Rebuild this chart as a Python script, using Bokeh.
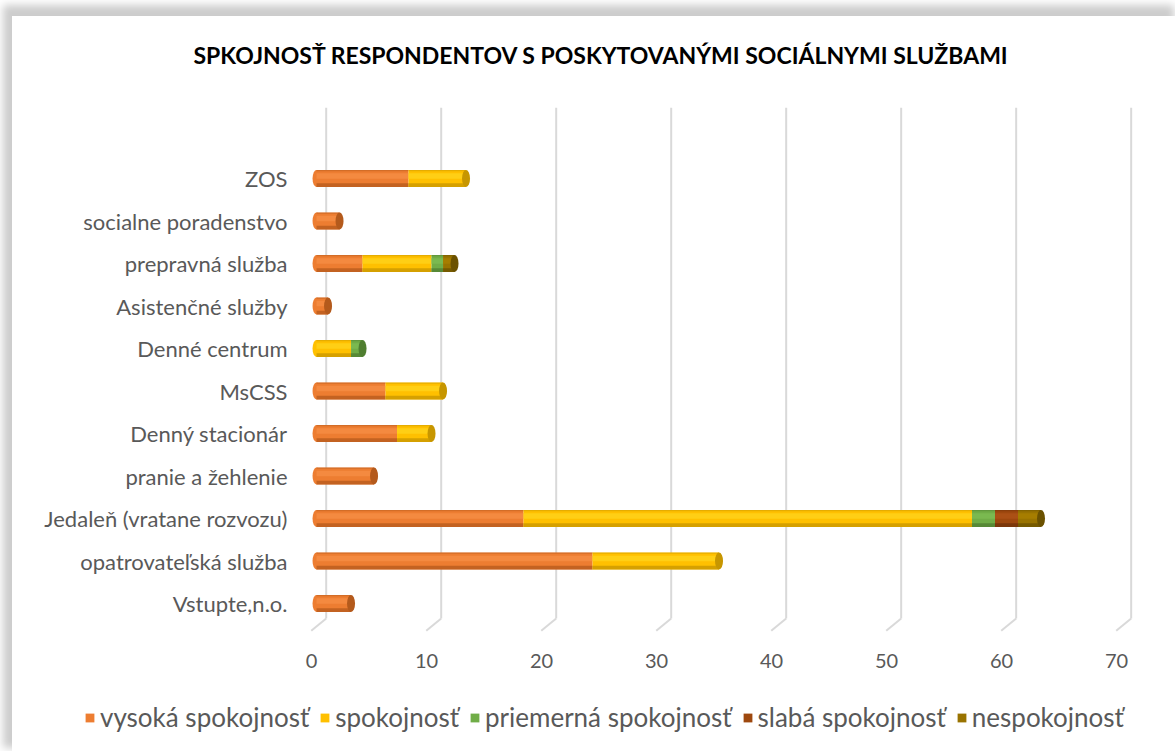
import numpy as np
from bokeh.plotting import figure
from bokeh.layouts import column
from bokeh.models import (ColumnDataSource, Range1d, LinearAxis, FixedTicker,
                          Legend, LegendItem, Title)
from bokeh.embed import file_html
from bokeh.resources import INLINE

# ---------------- data (bottom -> top) ----------------
categories = ["Vstupte,n.o.", "opatrovateľská služba", "Jedaleň (vratane rozvozu)",
              "pranie a žehlenie", "Denný stacionár", "MsCSS", "Denné centrum",
              "Asistenčné služby", "prepravná služba", "socialne poradenstvo", "ZOS"]
series_names = ["vysoká spokojnosť", "spokojnosť", "priemerná spokojnosť",
                "slabá spokojnosť", "nespokojnosť"]
vysoka = [3, 24, 18, 5, 7, 6, 0, 1, 4, 2, 8]
spokojnost = [0, 11, 39, 0, 3, 5, 3, 0, 6, 0, 5]
priemerna = [0, 0, 2, 0, 0, 0, 1, 0, 1, 0, 0]
slaba = [0, 0, 2, 0, 0, 0, 0, 0, 0, 0, 0]
nespokojnost = [0, 0, 2, 0, 0, 0, 0, 0, 1, 0, 0]
x_ticks = [0, 10, 20, 30, 40, 50, 60, 70]
title_text = "SPKOJNOSŤ RESPONDENTOV S POSKYTOVANÝMI SOCIÁLNYMI SLUŽBAMI"

base_colors = ["#ED7D31", "#FFC000", "#70AD47", "#9E480E", "#997300"]
light_colors = ["#F58D45", "#FFD21A", "#7DBB52", "#AE5318", "#A98000"]
dark_colors = ["#B45A1C", "#C79600", "#4F7E30", "#6F3209", "#6B5100"]

FONT = "Lato"
TXT = "#595959"
GRID = "#D9D9D9"

W = 1163
H_MAIN = 667
H_LEG = 68

# ---------------- main figure ----------------
X0, X1 = -0.96, 72
Y0, Y1 = -0.68, 11.67
p = figure(width=W, height=H_MAIN, x_range=Range1d(X0, X1), y_range=Range1d(Y0, Y1),
           output_backend="svg", toolbar_location=None,
           x_axis_location=None, y_axis_location=None,
           min_border_left=293, min_border_right=31, min_border_top=91,
           min_border_bottom=51)
p.frame_align = False
p.grid.visible = False
p.outline_line_color = None
p.background_fill_color = "white"
p.border_fill_color = "white"

# axis labels live on the front plane of the 3D chart
p.extra_x_ranges = {"front": Range1d(X0 + 0.43, X1 + 0.43)}

# ---------------- 3D-ish gridlines ----------------
xt = np.array(x_ticks, dtype=float)
back_off, front_off = 0.84, -0.46
bot_back, bot_front = -0.35, -0.64
p.segment(x0=xt + back_off, y0=[Y1] * len(xt), x1=xt + back_off, y1=[bot_back] * len(xt),
          line_color=GRID, line_width=2)
p.segment(x0=xt + back_off, y0=[bot_back] * len(xt), x1=xt + front_off,
          y1=[bot_front] * len(xt), line_color=GRID, line_width=2)

# ---------------- stacked cylinders ----------------
vals = np.array([vysoka, spokojnost, priemerna, slaba, nespokojnost], dtype=float)
cum = np.cumsum(vals, axis=0)
lefts = cum - vals
ys = np.arange(len(categories), dtype=float)
H = 0.40

first_idx = np.argmax(vals > 0, axis=0)
last_idx = vals.shape[0] - 1 - np.argmax(vals[::-1] > 0, axis=0)
totals = cum[-1]

lsrc = ColumnDataSource(dict(x=np.zeros(len(ys)), y=ys,
                             c=[base_colors[i] for i in first_idx]))
p.ellipse(x="x", y="y", width=8, height=H, width_units="screen", source=lsrc,
          fill_color="c", line_color=None)

for i, name in enumerate(series_names):
    m = vals[i] > 0
    src = ColumnDataSource(dict(y=ys[m], left=lefts[i][m], right=cum[i][m]))
    p.hbar(y="y", left="left", right="right", height=H, source=src,
           fill_color=base_colors[i], line_color=None)
    src_hi = ColumnDataSource(dict(y=ys[m] + 0.06, left=lefts[i][m], right=cum[i][m]))
    p.hbar(y="y", left="left", right="right", height=0.13, source=src_hi,
           fill_color=light_colors[i], fill_alpha=0.8, line_color=None)
    src_lo = ColumnDataSource(dict(y=ys[m] - 0.155, left=lefts[i][m], right=cum[i][m]))
    p.hbar(y="y", left="left", right="right", height=0.09, source=src_lo,
           fill_color=dark_colors[i], fill_alpha=0.75, line_color=None)
    src_te = ColumnDataSource(dict(y=ys[m] + 0.185, left=lefts[i][m], right=cum[i][m]))
    p.hbar(y="y", left="left", right="right", height=0.03, source=src_te,
           fill_color=dark_colors[i], fill_alpha=0.45, line_color=None)

rsrc = ColumnDataSource(dict(x=totals, y=ys, c=[dark_colors[i] for i in last_idx]))
p.ellipse(x="x", y="y", width=8, height=H, width_units="screen", source=rsrc,
          fill_color="c", line_color=None)

# ---------------- axes ----------------
yaxis = LinearAxis(ticker=FixedTicker(ticks=list(range(len(categories)))),
                   major_label_overrides={i: c for i, c in enumerate(categories)})
yaxis.axis_line_color = None
yaxis.major_tick_line_color = None
yaxis.minor_tick_line_color = None
yaxis.major_label_standoff = 12
yaxis.major_label_text_font = FONT
yaxis.major_label_text_font_size = "22px"
yaxis.major_label_text_color = TXT
p.add_layout(yaxis, "left")

xaxis = LinearAxis(x_range_name="front", ticker=FixedTicker(ticks=x_ticks))
xaxis.axis_line_color = None
xaxis.major_tick_line_color = None
xaxis.minor_tick_line_color = None
xaxis.major_label_standoff = 15
xaxis.major_label_text_font = FONT
xaxis.major_label_text_font_size = "20px"
xaxis.major_label_text_color = TXT
p.add_layout(xaxis, "below")

# ---------------- title ----------------
# real title in the figure's own (outer) title slot
p.title.text = title_text
p.title.text_font = FONT
p.title.text_font_style = "bold"
p.title.text_font_size = "23px"
p.title.text_color = "#000000"
p.title.align = "left"
p.title.offset = -112
p.title.standoff = 0
# spacer between the title and the plot area
spacer = Title(text=" ", text_font_size="10px", standoff=26)
p.add_layout(spacer, "above")

# ---------------- legend strip ----------------
lg = figure(width=W, height=H_LEG, x_range=Range1d(0, 1), y_range=Range1d(0, 1),
            output_backend="svg", toolbar_location=None,
            x_axis_location=None, y_axis_location=None,
            min_border_left=0, min_border_right=0, min_border_top=0, min_border_bottom=0)
lg.frame_align = False
lg.grid.visible = False
lg.outline_line_color = None
lg.border_fill_color = "white"
lg.background_fill_color = "white"
items = []
for i, name in enumerate(series_names):
    # legend key only: one entry lying outside the visible range
    r = lg.hbar(y=[-5], left=[0], right=[1], height=0.1,
                fill_color=base_colors[i], line_color=None)
    items.append(LegendItem(label=name, renderers=[r]))
legend = Legend(items=items, orientation="horizontal", location=(72, 18), padding=0,
                spacing=10, margin=0, label_standoff=5, glyph_width=11, glyph_height=11,
                label_text_font=FONT, label_text_font_size="26px", label_text_color=TXT,
                border_line_color=None, background_fill_alpha=0)
lg.add_layout(legend)

layout = column(p, lg, spacing=0)
layout.styles = {"margin-left": "12px", "margin-top": "16px",
                 "box-shadow": "-5px -7px 8px 4px rgba(0,0,0,0.2)"}

open("out.html", "w").write(file_html(layout, INLINE))
